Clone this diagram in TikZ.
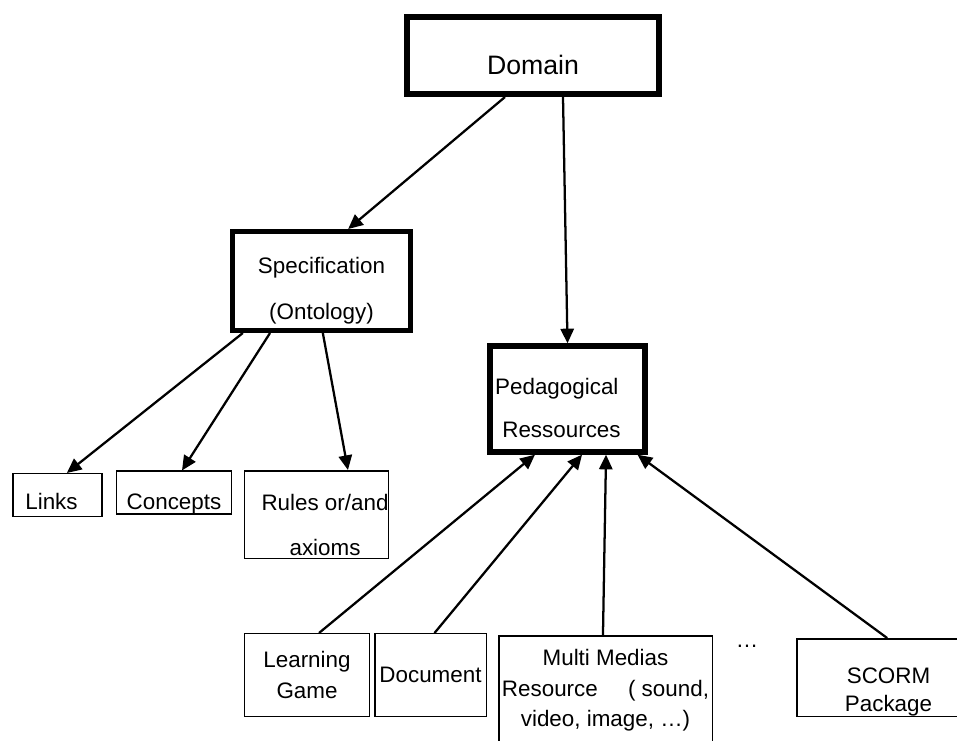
\documentclass[tikz,border=0pt]{standalone}
\usepackage{fontspec}
\setmainfont{Liberation Sans}
\usetikzlibrary{arrows.meta}

% invisible strut that pushes a box text down
\newcommand\down[1]{\rule{0pt}{#1}}

\tikzset{
  box/.style={draw, line width=1.1pt, align=center, inner sep=0pt,
    font=\fontsize{16.8}{20}\selectfont},
  thickbox/.style={box, line width=#1},
  link/.style={-{Triangle[length=11pt,width=10pt]}, line width=1.7pt},
}

\begin{document}
\begin{tikzpicture}[x=0.75pt,y=-0.75pt]
		\useasboundingbox (0,0) rectangle (957,740);
		\clip (0,0) rectangle (957,740);

		\node[thickbox=4.5pt, minimum width=189pt, minimum height=57.75pt,
		      font=\fontsize{20}{24}\selectfont] (dom) at (533,55.5) {\down{28pt}Domain};
		\node[thickbox=3.75pt, minimum width=133.5pt, minimum height=74.25pt] (spec) at (321.5,281) {\down{26.5pt}Specification\\[15pt](Ontology)};
		\node[thickbox=4pt, minimum width=116.25pt, minimum height=79.5pt] (ped) at (567.5,399) {\down{26pt}Pedagogical\hspace*{16pt}\\[12pt]Ressources\hspace*{9pt}};

		\node[box, minimum width=67pt, minimum height=31.9pt] (links) at (57.5,495) {\down{21.5pt}Links\hspace*{9pt}};
		\node[box, minimum width=85.9pt, minimum height=28.1pt] (concepts) at (174,492.5) {\down{28.5pt}Concepts};
		\node[box, minimum width=106.1pt, minimum height=65.6pt] (rules) at (316.5,514.5) {\down{27.5pt}\hspace*{12.8pt}Rules or/and\\[14pt]\hspace*{12.8pt}axioms};

		\node[box, minimum width=93.4pt, minimum height=61.9pt] (lg) at (307,675) {Learning\\[3pt]Game};
		\node[box, minimum width=83.6pt, minimum height=61.9pt] (doc) at (430.5,675) {Document};
		\node[box, minimum width=160.1pt, minimum height=81.75pt] (mm) at (605.5,690.5) {Multi Medias\\[3pt]Resource\hspace{18pt} ( sound,\\[3pt]video, image, …)};
		\node[box, minimum width=137.25pt, minimum height=58.1pt] (scorm) at (888.5,677.5) {\down{33.5pt}SCORM\\[1pt]Package};
		\node[font=\fontsize{16.8}{20}\selectfont] (more) at (747,646) {…};

		\draw[link] ([xshift=-21pt]dom.south) -- ([xshift=20pt]spec.north);
		\draw[link] ([xshift=22.5pt]dom.south) -- (ped.north);

		\draw[link] ([xshift=-59pt]spec.south) -- ([xshift=7pt]links.north);
		\draw[link] ([xshift=-38.6pt]spec.south) -- ([xshift=6pt]concepts.north);
		\draw[link] ([xshift=1pt]spec.south) -- ([xshift=23.6pt]rules.north);

		\draw[link] ([xshift=9pt]lg.north) -- ([xshift=-24.4pt]ped.south);
		\draw[link] ([xshift=3pt]doc.north) -- ([xshift=10.9pt]ped.south);
		\draw[link] ([xshift=-1.9pt]mm.north) -- ([xshift=28.9pt]ped.south);
		\draw[link] ([xshift=-1pt]scorm.north) -- ([xshift=52.5pt]ped.south);
	\end{tikzpicture}
\end{document}
